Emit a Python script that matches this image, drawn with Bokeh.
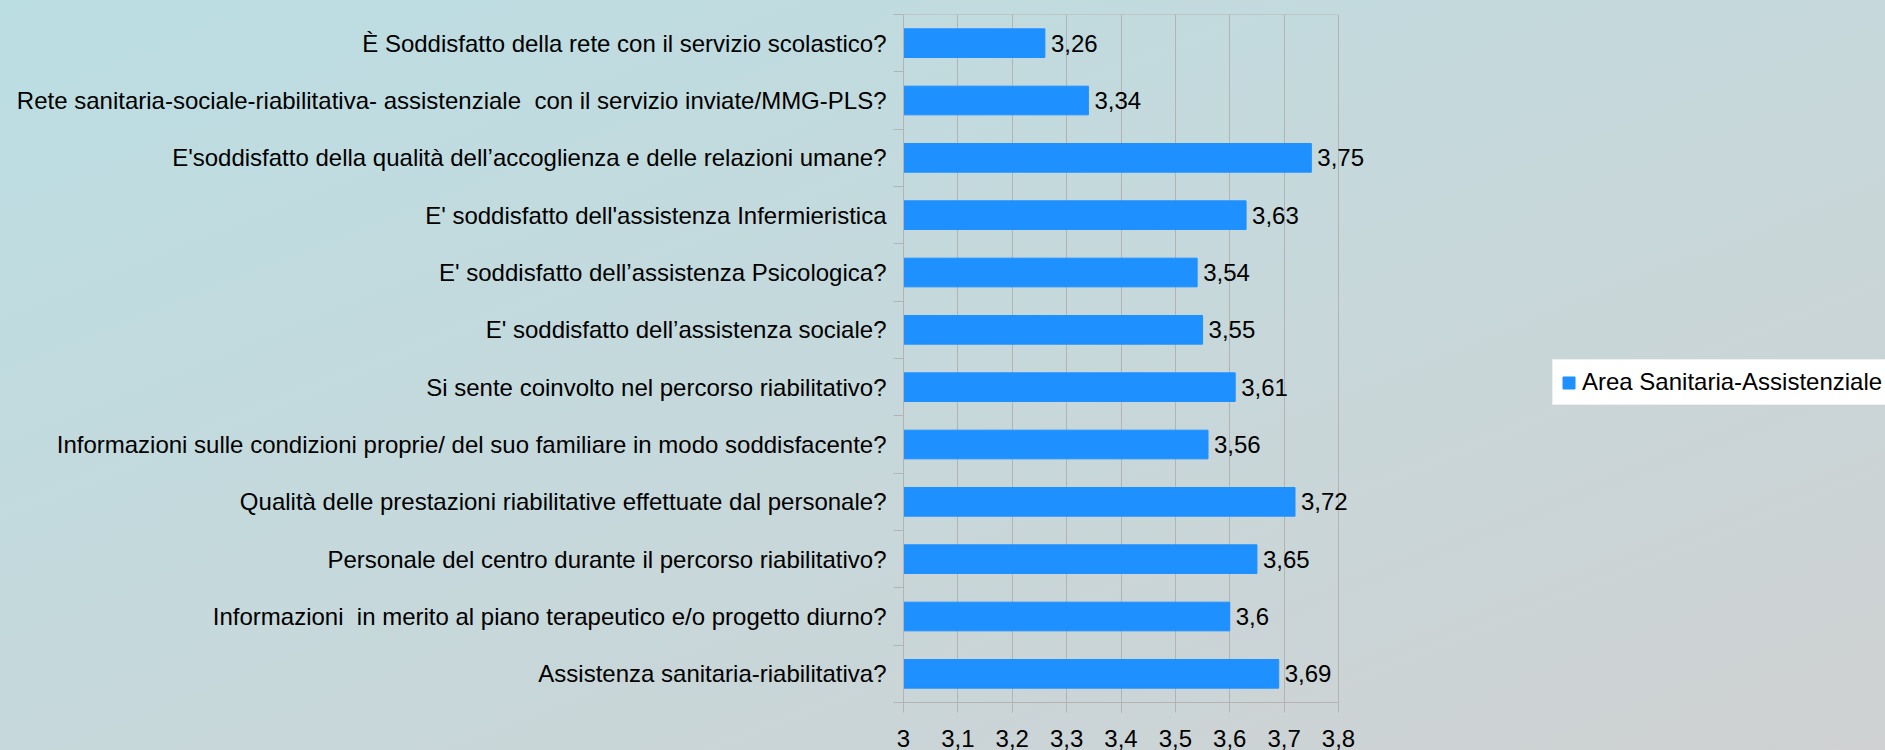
from bokeh.plotting import figure
from bokeh.models import (Range1d, FixedTicker, CustomJSTickFormatter, Legend, LegendItem,
                          ColumnDataSource)
from bokeh.core.properties import value
from bokeh.embed import file_html
from bokeh.resources import INLINE

# ---- data (top to bottom as shown) ----
categories = [
    "È Soddisfatto della rete con il servizio scolastico?",
    "Rete sanitaria-sociale-riabilitativa- assistenziale \u00a0con il servizio inviate/MMG-PLS?",
    "E'soddisfatto della qualità dell’accoglienza e delle relazioni umane?",
    "E' soddisfatto dell'assistenza Infermieristica",
    "E' soddisfatto dell’assistenza Psicologica?",
    "E' soddisfatto dell’assistenza sociale?",
    "Si sente coinvolto nel percorso riabilitativo?",
    "Informazioni sulle condizioni proprie/ del suo familiare in modo soddisfacente?",
    "Qualità delle prestazioni riabilitative effettuate dal personale?",
    "Personale del centro durante il percorso riabilitativo?",
    "Informazioni \u00a0in merito al piano terapeutico e/o progetto diurno?",
    "Assistenza sanitaria-riabilitativa?",
]
values = [3.26, 3.34, 3.75, 3.63, 3.54, 3.55, 3.61, 3.56, 3.72, 3.65, 3.6, 3.69]
series_name = "Area Sanitaria-Assistenziale"
x_ticks = [3.0, 3.1, 3.2, 3.3, 3.4, 3.5, 3.6, 3.7, 3.8]

n = len(categories)
ypos = [n - 0.5 - i for i in range(n)]
labels = [str(v).replace(".", ",") for v in values]

src = ColumnDataSource(dict(y=ypos, v=values, lab=labels, cat=categories))

FONT = "Liberation Sans"
GRID = "#b3b3b3"
W, H = 1885, 750
LEFT, TOP, BOTTOM = 903, 14, 48
AXIS_PX = 435                      # pixel width of the 3.0 .. 3.8 value axis
x0, x1 = x_ticks[0], x_ticks[-1]
# frame runs to the right edge so value labels and legend are not clipped
x_end = x0 + (x1 - x0) * (W - LEFT) / AXIS_PX

p = figure(width=W, height=H, output_backend="svg", toolbar_location=None,
           x_range=Range1d(x0, x_end), y_range=Range1d(0, n),
           min_border_left=LEFT, min_border_right=0, min_border_top=TOP,
           min_border_bottom=BOTTOM)

p.styles = {"background": "linear-gradient(to bottom right, #bbdee3, #c6d8db 50%, #cfd1d2)"}
p.border_fill_color = None
p.background_fill_color = None
p.outline_line_color = None

# top border of the plot area
p.segment(x0=[x0], y0=[n], x1=[x1], y1=[n], line_color=GRID, line_width=1)

r = p.hbar(y="y", left=x0, right="v", height=0.5, color="#1e90ff", source=src)

p.text(x="v", y="y", text="lab", source=src, x_offset=6, text_baseline="middle",
       text_align="left", text_font=value(FONT), text_font_size="24px", text_color="#000000")

# x axis
p.xaxis.ticker = FixedTicker(ticks=x_ticks)
p.xaxis.bounds = (x0, x1)
p.xaxis.formatter = CustomJSTickFormatter(code="return (Math.round(tick*10)/10).toString().replace('.', ',');")
p.xaxis.axis_line_color = GRID
p.xaxis.major_tick_line_color = GRID
p.xaxis.major_tick_out = 10
p.xaxis.major_tick_in = 0
p.xaxis.minor_tick_line_color = None
p.xaxis.major_label_standoff = 17
p.xaxis.major_label_text_font = FONT
p.xaxis.major_label_text_font_size = "24px"
p.xaxis.major_label_text_color = "#000000"

# y axis
p.yaxis.ticker = FixedTicker(ticks=ypos, minor_ticks=list(range(n + 1)))
p.yaxis.major_label_overrides = {y: c for y, c in zip(ypos, categories)}
p.yaxis.axis_line_color = GRID
p.yaxis.major_tick_line_color = None
p.yaxis.major_tick_out = 0
p.yaxis.major_tick_in = 0
p.yaxis.minor_tick_line_color = GRID
p.yaxis.minor_tick_out = 10
p.yaxis.minor_tick_in = 0
p.yaxis.major_label_standoff = 7
p.yaxis.major_label_text_font = FONT
p.yaxis.major_label_text_font_size = "24px"
p.yaxis.major_label_text_color = "#000000"

p.xgrid.grid_line_color = GRID
p.ygrid.grid_line_color = None

legend = Legend(items=[LegendItem(label=series_name, renderers=[r])],
                location=(1552 - LEFT, H - BOTTOM - 405), orientation="vertical",
                background_fill_color="#ffffff", background_fill_alpha=1.0,
                border_line_color="#e0e0e0", padding=8, margin=0,
                glyph_width=15, glyph_height=15, label_standoff=6,
                label_text_font=FONT, label_text_font_size="24px",
                label_text_color="#000000")
p.add_layout(legend, "center")

open("out.html", "w").write(file_html(p, INLINE))
